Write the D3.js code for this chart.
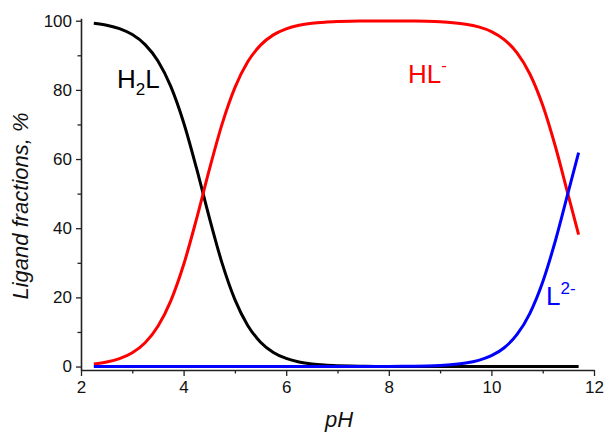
<!DOCTYPE html>
<html>
<head>
<meta charset="utf-8">
<script src="https://cdn.jsdelivr.net/npm/d3@7"></script>
<style>
  body { margin: 0; background: #fff; }
  svg { display: block; font-family: "Liberation Sans", Arial, sans-serif; }
</style>
</head>
<body>
<div id="chart"></div>
<script>
// pH grid and species fractions (%)
const pH = [2.25, 2.5, 2.75, 3.0, 3.25, 3.5, 3.75, 4.0, 4.25, 4.5, 4.75, 5.0, 5.25, 5.5, 5.75,
  6.0, 6.25, 6.5, 6.75, 7.0, 7.25, 7.5, 7.75, 8.0, 8.25, 8.5, 8.75, 9.0, 9.25, 9.5, 9.75,
  10.0, 10.25, 10.5, 10.75, 11.0, 11.25, 11.5, 11.7];
const h2l = [99.26, 98.70, 97.71, 95.99, 93.10, 88.36, 81.01, 70.58, 57.43, 43.14, 29.90, 19.35, 11.89, 7.05, 4.09,
  2.34, 1.33, 0.75, 0.42, 0.24, 0.13, 0.08, 0.04, 0.02, 0.01, 0, 0, 0, 0, 0, 0,
  0, 0, 0, 0, 0, 0, 0, 0];
const hl = [0.74, 1.30, 2.29, 4.01, 6.90, 11.64, 18.99, 29.42, 42.57, 56.86, 70.10, 80.65, 88.11, 92.95, 95.91,
  97.66, 98.67, 99.25, 99.58, 99.76, 99.87, 99.91, 99.94, 99.95, 99.93, 99.90, 99.82, 99.68, 99.43, 98.99, 98.21,
  96.87, 94.56, 90.72, 84.60, 75.55, 63.48, 49.42, 38.14];
const l2 = [0, 0, 0, 0, 0, 0, 0, 0, 0, 0, 0, 0, 0, 0, 0,
  0, 0, 0, 0, 0, 0, 0.01, 0.02, 0.03, 0.06, 0.10, 0.18, 0.32, 0.57, 1.01, 1.79,
  3.13, 5.44, 9.28, 15.40, 24.45, 36.52, 50.58, 61.86];

const xMajor = [2, 4, 6, 8, 10, 12];
const xMinor = [3, 5, 7, 9, 11];
const yMajor = [0, 20, 40, 60, 80, 100];
const yMinor = [10, 30, 50, 70, 90];

const width = 608, height = 435;
const svg = d3.select("#chart").append("svg")
  .attr("width", width)
  .attr("height", height);

const x = d3.scaleLinear().domain([2, 12]).range([81, 594]);
const y = d3.scaleLinear().domain([-1, 100.7]).range([370, 18.3]);

// axes
const xAxis = svg.append("g")
  .attr("transform", `translate(0,${y(-1)})`)
  .call(d3.axisBottom(x).tickValues(xMajor).tickSize(6).tickSizeOuter(0).tickPadding(5));
svg.append("g")
  .attr("transform", `translate(0,${y(-1)})`)
  .call(d3.axisBottom(x).tickValues(xMinor).tickSize(3.5).tickFormat(""))
  .select(".domain").remove();

const yAxis = svg.append("g")
  .attr("transform", `translate(${x(2)},0)`)
  .call(d3.axisLeft(y).tickValues(yMajor).tickSize(5).tickSizeOuter(0).tickPadding(4));
svg.append("g")
  .attr("transform", `translate(${x(2)},0)`)
  .call(d3.axisLeft(y).tickValues(yMinor).tickSize(3.5).tickFormat(""))
  .select(".domain").remove();

svg.selectAll(".domain").attr("stroke", "#222").attr("stroke-width", 1.6);
svg.selectAll(".tick line").attr("stroke", "#222").attr("stroke-width", 1.3);
svg.selectAll(".tick text")
  .attr("font-size", "17px")
  .attr("font-family", "Liberation Sans, Arial, sans-serif")
  .attr("fill", "#111");

// axis titles
svg.append("text")
  .attr("x", 339)
  .attr("y", 427)
  .attr("text-anchor", "middle")
  .attr("font-size", "22px")
  .attr("font-style", "italic")
  .attr("fill", "#111")
  .text("pH");

svg.append("text")
  .attr("transform", "translate(28,206) rotate(-90)")
  .attr("text-anchor", "middle")
  .attr("font-size", "22px")
  .attr("font-style", "italic")
  .attr("fill", "#111")
  .text("Ligand fractions, %");

// curves
const series = [
  { name: "H2L", values: h2l, color: "#000000" },
  { name: "HL", values: hl, color: "#ff0000" },
  { name: "L2", values: l2, color: "#0000ff" }
];

const line = d3.line()
  .x(d => x(d[0]))
  .y(d => y(d[1]))
  .curve(d3.curveMonotoneX);

series.forEach(s => {
  svg.append("path")
    .datum(pH.map((p, i) => [p, s.values[i]]))
    .attr("fill", "none")
    .attr("stroke", s.color)
    .attr("stroke-width", 3)
    .attr("d", line);
});

// species labels
const h2lLabel = svg.append("text")
  .attr("x", 117)
  .attr("y", 88)
  .attr("font-size", "26px")
  .attr("fill", "#000");
h2lLabel.append("tspan").text("H");
h2lLabel.append("tspan").attr("font-size", "17px").attr("dy", 7).text("2");
h2lLabel.append("tspan").attr("dy", -7).text("L");

const hlLabel = svg.append("text")
  .attr("x", 408)
  .attr("y", 83)
  .attr("font-size", "26px")
  .attr("fill", "#ff0000");
hlLabel.append("tspan").text("HL");
hlLabel.append("tspan").attr("font-size", "17px").attr("dy", -12).text("-");

const l2Label = svg.append("text")
  .attr("x", 546)
  .attr("y", 305)
  .attr("font-size", "26px")
  .attr("fill", "#0000ff");
l2Label.append("tspan").text("L");
l2Label.append("tspan").attr("font-size", "17px").attr("dy", -11).text("2-");
</script>
</body>
</html>
